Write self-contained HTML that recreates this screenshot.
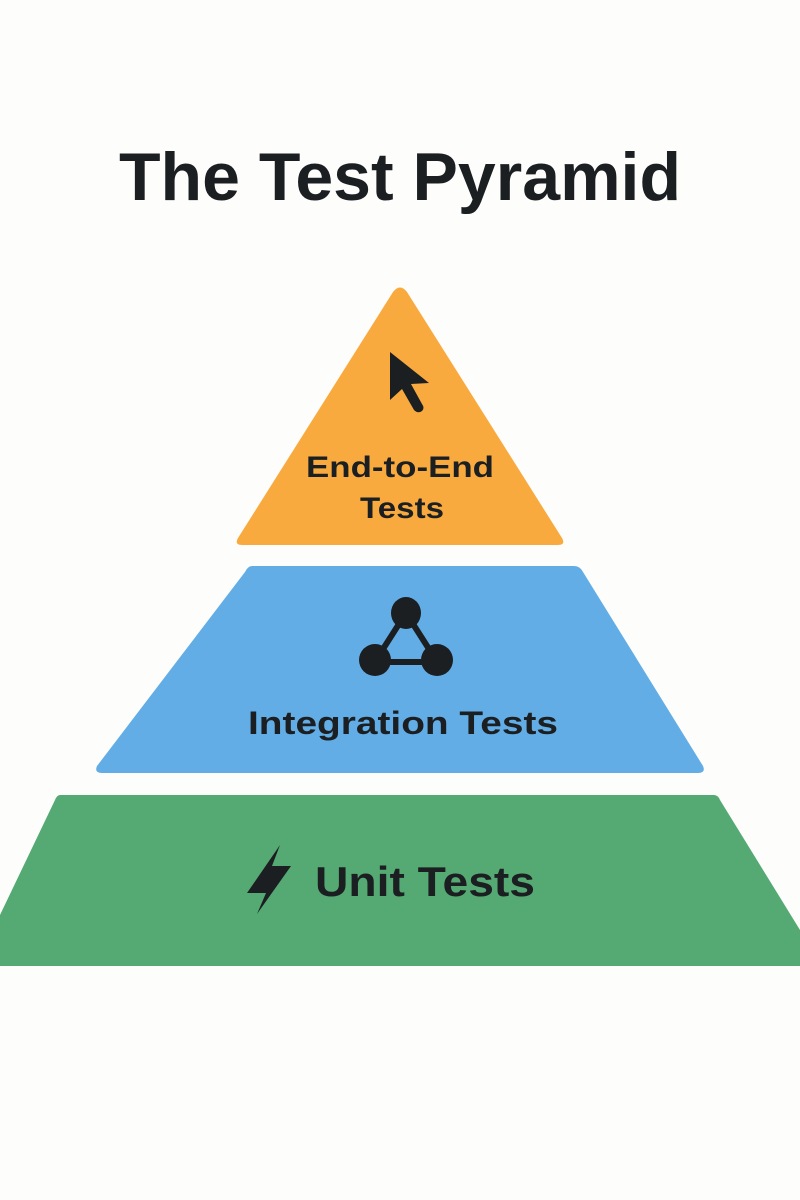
<!DOCTYPE html>
<html><head><meta charset="utf-8"><style>
html,body{margin:0;padding:0;background:#fdfdfc;}
svg{display:block;}
text{font-family:"Liberation Sans",sans-serif;font-weight:bold;fill:#1c1f22;}
</style></head><body>
<svg width="800" height="1200" viewBox="0 0 800 1200">
<rect width="800" height="1200" fill="#fdfdfc"/>
<text x="400" y="200" font-size="68" text-anchor="middle" textLength="562" lengthAdjust="spacingAndGlyphs">The Test Pyramid</text>
<path d="M393,292 Q400,283 407,292 L562,538 Q566,545 558,545 L242,545 Q234,545 238,538 Z" fill="#f9aa3f"/>
<path d="M252,566 L574,566 Q580,566 583,572 L703,766 Q706,773 698,773 L102,773 Q94,773 97,766 L245,572 Q248,566 252,566 Z" fill="#62ade5"/>
<path d="M60,795 L714,795 Q718,795 720,800 L800,930 L800,966 L0,966 L0,915 L55,800 Q57,795 60,795 Z" fill="#55aa73"/>
<!-- cursor -->
<path d="M390,352 L390,400 L402,389 L414,410 Q418,414 422,411 Q425,408 422,404 L411,384 L429,383 Z" fill="#1c1f22"/>
<text x="400" y="477" font-size="30" text-anchor="middle" textLength="188" lengthAdjust="spacingAndGlyphs">End-to-End</text>
<text x="402" y="518" font-size="30" text-anchor="middle" textLength="84" lengthAdjust="spacingAndGlyphs">Tests</text>
<!-- graph icon -->
<g stroke="#1c1f22" stroke-width="6" fill="none"><line x1="406" y1="613" x2="376" y2="660"/><line x1="406" y1="613" x2="436" y2="660"/><line x1="376" y1="662" x2="436" y2="662"/></g>
<ellipse cx="406" cy="613" rx="15" ry="16" fill="#1c1f22"/>
<ellipse cx="375" cy="660" rx="16" ry="16" fill="#1c1f22"/>
<ellipse cx="437" cy="660" rx="16" ry="16" fill="#1c1f22"/>
<text x="403" y="734" font-size="32" text-anchor="middle" textLength="310" lengthAdjust="spacingAndGlyphs">Integration Tests</text>
<!-- bolt -->
<path d="M280,845 L247,893 L266,893 L257,914 L291,866 L272,866 Z" fill="#1c1f22"/>
<text x="425" y="896" font-size="42" text-anchor="middle" textLength="220" lengthAdjust="spacingAndGlyphs">Unit Tests</text>
</svg>
</body></html>
